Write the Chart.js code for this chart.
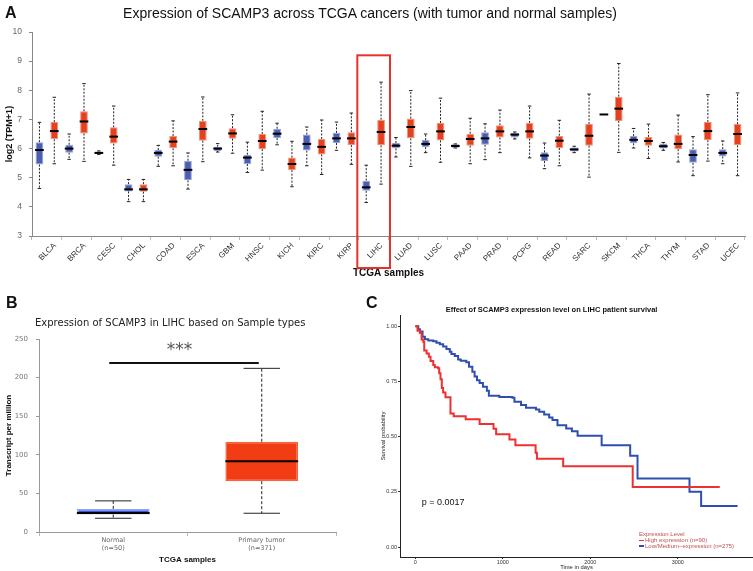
<!DOCTYPE html>
<html>
<head>
<meta charset="utf-8">
<script src="https://cdn.jsdelivr.net/npm/chart.js@4.4.1/dist/chart.umd.min.js"></script>
<style>
  html, body { margin: 0; padding: 0; background: #fff; }
  #page { position: relative; width: 753px; height: 571px; overflow: hidden; font-family: "Liberation Sans", Arial, sans-serif; }
  canvas { position: absolute; }
  .txt { position: absolute; line-height: 1; white-space: nowrap; color: #111; }
  .letter { font-weight: bold; font-size: 16px; }
  .leg { font-size: 6px; color: #c0504d; }
  .mark { position: absolute; width: 5px; height: 1.5px; }
</style>
</head>
<body>
<div id="page">
  <canvas id="chartA" width="753" height="280" style="left:0;top:0"></canvas>
  <canvas id="chartB" width="375" height="291" style="left:0;top:280px"></canvas>
  <canvas id="chartC" width="378" height="291" style="left:375px;top:280px"></canvas>

  <div class="txt letter" style="left:5px;top:5px">A</div>
  <div class="txt" style="left:0;top:5.5px;width:740px;text-align:center;font-size:14px">Expression of SCAMP3 across TCGA cancers (with tumor and normal samples)</div>

  <div class="txt letter" style="left:6px;top:295px">B</div>
  <div class="txt" style="left:35px;top:318px;font-family:'DejaVu Sans';font-size:10px;color:#222">Expression of SCAMP3 in LIHC based on Sample types</div>

  <div class="txt letter" style="left:366px;top:295px">C</div>
  <div class="txt" style="left:445.7px;top:306px;width:200px;text-align:center;font-size:7.5px;font-weight:bold">Effect of SCAMP3 expression level on LIHC patient survival</div>
  <div class="txt" style="left:421.7px;top:498px;font-size:9px">p = 0.0017</div>

  <div class="txt leg" style="left:639px;top:531.2px">Expression Level</div>
  <div class="mark" style="left:639px;top:539.5px;background:#ee3030"></div>
  <div class="txt leg" style="left:645px;top:537px">High expression (n=90)</div>
  <div class="mark" style="left:639px;top:545.3px;background:#2f4fae"></div>
  <div class="txt leg" style="left:645px;top:542.9px">Low/Medium−expression (n=275)</div>
</div>

<script>
// ---- panel A: SCAMP3 across TCGA cancers, log2(TPM+1)
const cancers = ["BLCA", "BRCA", "CESC", "CHOL", "COAD", "ESCA", "GBM", "HNSC", "KICH", "KIRC", "KIRP", "LIHC",
  "LUAD", "LUSC", "PAAD", "PRAD", "PCPG", "READ", "SARC", "SKCM", "THCA", "THYM", "STAD", "UCEC"];

const normalMin = [4.63, 5.63, 5.80, 4.18, 5.39, 4.61, 5.88, 5.18, 6.13, 5.41, 5.94, 4.15, 5.71, 5.86, 6.02, 5.62, 6.33, 5.31, 5.86, 7.17, 6.02, 5.94, 5.07, 5.48];
const normalQ1 = [5.45, 5.86, 5.81, 4.53, 5.72, 4.91, 5.92, 5.47, 6.36, 5.93, 6.19, 4.55, 6.01, 6.05, 6.03, 6.13, 6.38, 5.57, 5.90, 7.17, 6.18, 6.00, 5.51, 5.73];
const normalMed = [5.95, 6.00, 5.85, 4.60, 5.85, 5.27, 6.00, 5.69, 6.51, 6.16, 6.35, 4.67, 6.10, 6.16, 6.09, 6.35, 6.48, 5.76, 5.97, 7.17, 6.30, 6.08, 5.78, 5.85];
const normalQ3 = [6.22, 6.13, 5.90, 4.78, 5.95, 5.58, 6.06, 5.79, 6.68, 6.48, 6.54, 4.90, 6.19, 6.29, 6.15, 6.56, 6.54, 5.87, 6.04, 7.17, 6.43, 6.17, 5.98, 5.98];
const normalMax = [6.90, 6.50, 5.92, 4.94, 6.11, 5.85, 6.17, 6.22, 6.87, 6.74, 6.91, 5.43, 6.38, 6.50, 6.16, 6.85, 6.57, 6.19, 6.08, 7.17, 6.69, 6.21, 6.41, 6.26];

const tumorMin = [5.48, 5.56, 5.43, 4.18, 5.41, 5.55, 5.84, 5.26, 4.69, 5.11, 5.46, 4.78, 5.39, 5.53, 5.48, 5.86, 5.68, 5.41, 5.02, 5.87, 5.66, 5.54, 5.57, 5.07];
const tumorQ1 = [6.32, 6.52, 6.17, 4.52, 6.01, 6.27, 6.34, 5.98, 5.26, 5.80, 6.12, 6.11, 6.35, 6.28, 6.10, 6.38, 6.34, 6.02, 6.10, 6.95, 6.10, 5.98, 6.29, 6.11];
const tumorMed = [6.60, 6.93, 6.41, 4.60, 6.24, 6.67, 6.52, 6.26, 5.47, 6.06, 6.35, 6.57, 6.74, 6.59, 6.33, 6.59, 6.59, 6.27, 6.44, 7.37, 6.26, 6.16, 6.60, 6.50];
const tumorQ3 = [6.91, 7.28, 6.73, 4.78, 6.43, 6.95, 6.70, 6.50, 5.69, 6.33, 6.56, 6.99, 7.03, 6.88, 6.51, 6.80, 6.88, 6.44, 6.84, 7.78, 6.40, 6.48, 6.91, 6.84];
const tumorMax = [7.76, 8.23, 7.46, 4.94, 6.95, 7.77, 7.16, 7.28, 6.25, 6.98, 7.22, 8.28, 7.99, 7.73, 7.04, 7.32, 7.46, 6.97, 7.87, 8.92, 6.84, 7.15, 7.85, 7.91];

const highlightCancer = "LIHC";
const highlightTop = 9.2;

// ---- panel B: LIHC, transcripts per million
const lihcGroups = [["Normal", "(n=50)"], ["Primary tumor", "(n=371)"]];
const lihcMin = [17.8, 24.3];
const lihcQ1 = [22.6, 65.8];
const lihcMed = [24.7, 91.8];
const lihcQ3 = [29.9, 116.9];
const lihcMax = [40.3, 212];
const sigLevel = 219;
const sigLabel = "***";

// ---- panel C: Kaplan-Meier curves (time in days, survival probability)
const highDays = [0, 25, 53, 72, 91, 102, 129, 155, 174, 205, 223, 261, 273, 288, 303, 318, 345, 402, 439, 576, 735, 894, 924, 1076, 1144, 1375, 1390, 1690, 2485, 3480];
const highSurv = [1.0, 0.98, 0.97, 0.94, 0.93, 0.89, 0.877, 0.862, 0.843, 0.825, 0.814, 0.81, 0.787, 0.76, 0.72, 0.70, 0.678, 0.605, 0.593, 0.579, 0.557, 0.536, 0.511, 0.487, 0.461, 0.427, 0.40, 0.366, 0.272, 0.272];
const lowDays = [0, 34, 53, 83, 110, 148, 205, 242, 280, 318, 356, 394, 413, 451, 489, 519, 583, 614, 652, 678, 705, 735, 773, 818, 841, 960, 1110, 1133, 1208, 1265, 1379, 1417, 1473, 1530, 1568, 1625, 1725, 1790, 1855, 2130, 2456, 2540, 3134, 3267, 3684];
const lowSurv = [1.0, 0.986, 0.976, 0.953, 0.941, 0.935, 0.932, 0.925, 0.918, 0.908, 0.897, 0.885, 0.874, 0.865, 0.85, 0.844, 0.837, 0.817, 0.794, 0.772, 0.756, 0.743, 0.726, 0.708, 0.685, 0.68, 0.676, 0.658, 0.643, 0.631, 0.623, 0.613, 0.60, 0.587, 0.575, 0.552, 0.537, 0.525, 0.504, 0.461, 0.413, 0.31, 0.25, 0.186, 0.186];
const timeTicks = [0, 1000, 2000, 3000];
const survTicks = [0, 0.25, 0.5, 0.75, 1];

Chart.defaults.font.family = "'Liberation Sans', Arial, sans-serif";
Chart.defaults.animation = false;
Chart.defaults.plugins.legend.display = false;
Chart.defaults.plugins.tooltip.enabled = false;

// whiskers + median for the floating-bar boxes
const boxStats = {
  id: "boxStats",
  afterDatasetsDraw(chart, args, opts) {
    const ctx = chart.ctx;
    chart.data.datasets.forEach((ds, di) => {
      if (!ds.stats) return;
      const meta = chart.getDatasetMeta(di);
      const y = chart.scales[meta.yAxisID];
      const st = ds.stats;
      meta.data.forEach((bar, i) => {
        const x = bar.x;
        const w = bar.width;
        const cap = w * opts.capFrac;
        const pMin = y.getPixelForValue(st.min[i]);
        const pQ1 = y.getPixelForValue(st.q1[i]);
        const pMed = y.getPixelForValue(st.med[i]);
        const pQ3 = y.getPixelForValue(st.q3[i]);
        const pMax = y.getPixelForValue(st.max[i]);
        ctx.save();
        ctx.strokeStyle = opts.color;
        ctx.lineWidth = 1;
        ctx.setLineDash(opts.dash);
        ctx.beginPath();
        ctx.moveTo(x, pQ3); ctx.lineTo(x, pMax);
        ctx.moveTo(x, pQ1); ctx.lineTo(x, pMin);
        ctx.stroke();
        ctx.setLineDash([]);
        ctx.lineWidth = opts.capWidth;
        ctx.beginPath();
        ctx.moveTo(x - cap / 2, pMax); ctx.lineTo(x + cap / 2, pMax);
        ctx.moveTo(x - cap / 2, pMin); ctx.lineTo(x + cap / 2, pMin);
        ctx.stroke();
        ctx.strokeStyle = "#000";
        ctx.lineWidth = opts.medianWidth;
        ctx.beginPath();
        ctx.moveTo(x - w / 2 - opts.medianExtra, pMed);
        ctx.lineTo(x + w / 2 + opts.medianExtra, pMed);
        ctx.stroke();
        ctx.restore();
      });
    });
  }
};

const highlightBox = {
  id: "highlightBox",
  afterDraw(chart) {
    const x = chart.scales.x;
    const y = chart.scales.y;
    const idx = cancers.indexOf(highlightCancer);
    const cw = x.width / cancers.length;
    const cx = x.getPixelForValue(idx);
    const top = y.getPixelForValue(highlightTop);
    const bottom = chart.chartArea.bottom + 32;
    const ctx = chart.ctx;
    ctx.save();
    ctx.strokeStyle = "#e5322d";
    ctx.lineWidth = 2;
    ctx.strokeRect(cx - cw * 0.55, top, cw * 1.1, bottom - top);
    ctx.restore();
  }
};

const sigBar = {
  id: "sigBar",
  afterDraw(chart) {
    const x = chart.scales.x;
    const y = chart.scales.y;
    const ctx = chart.ctx;
    const yy = y.getPixelForValue(sigLevel);
    ctx.save();
    ctx.strokeStyle = "#111";
    ctx.lineWidth = 2;
    ctx.beginPath();
    ctx.moveTo(x.getPixelForValue(0) - 4, yy);
    ctx.lineTo(x.getPixelForValue(1) - 3, yy);
    ctx.stroke();
    ctx.fillStyle = "#555";
    ctx.font = "17px 'DejaVu Sans'";
    ctx.textAlign = "center";
    ctx.textBaseline = "middle";
    ctx.fillText(sigLabel, (x.getPixelForValue(0) + x.getPixelForValue(1)) / 2 - 8, yy - 12);
    ctx.restore();
  }
};

// ---- chart A
new Chart(document.getElementById("chartA"), {
  type: "bar",
  data: {
    labels: cancers,
    datasets: [
      {
        label: "Normal",
        data: cancers.map((c, i) => [normalQ1[i], normalQ3[i]]),
        stats: { min: normalMin, q1: normalQ1, med: normalMed, q3: normalQ3, max: normalMax },
        backgroundColor: "#4b5eb0",
        borderColor: "#95a3dc",
        borderWidth: 1,
        borderSkipped: false
      },
      {
        label: "Tumor",
        data: cancers.map((c, i) => [tumorQ1[i], tumorQ3[i]]),
        stats: { min: tumorMin, q1: tumorQ1, med: tumorMed, q3: tumorQ3, max: tumorMax },
        backgroundColor: "#e6411f",
        borderColor: "#f3907a",
        borderWidth: 1,
        borderSkipped: false
      }
    ]
  },
  options: {
    responsive: false,
    categoryPercentage: 1.0,
    barPercentage: 0.52,
    layout: { padding: { top: 32, right: 8, left: 0, bottom: 0 } },
    plugins: {
      boxStats: { color: "#222", dash: [2, 1.5], capFrac: 0.45, capWidth: 1, medianWidth: 2, medianExtra: 0.5 }
    },
    scales: {
      x: {
        offset: true,
        grid: { drawOnChartArea: false, drawTicks: true, tickLength: 4, color: "#bbb", offset: true },
        border: { color: "#888" },
        ticks: { autoSkip: false, minRotation: 45, maxRotation: 45, labelOffset: 8, font: { size: 8 }, color: "#333", padding: 1 },
        title: { display: true, text: "TCGA samples", font: { size: 10, weight: "bold" }, color: "#111", padding: { top: 0, bottom: 1 } },
        afterFit: s => { s.height = 44; }
      },
      y: {
        min: 3,
        max: 10,
        ticks: { stepSize: 1, font: { size: 8.5 }, color: "#666", padding: 7 },
        grid: { drawOnChartArea: false, tickLength: 3, color: "#888" },
        border: { color: "#888" },
        title: { display: true, text: "log2 (TPM+1)", font: { size: 9, weight: "bold" }, color: "#111", padding: { top: 4, bottom: 0 } },
        afterFit: s => { s.width = 32; }
      }
    }
  },
  plugins: [boxStats, highlightBox]
});

// ---- chart B
new Chart(document.getElementById("chartB"), {
  type: "bar",
  data: {
    labels: lihcGroups,
    datasets: [{
      label: "LIHC",
      data: lihcGroups.map((g, i) => [lihcQ1[i], lihcQ3[i]]),
      stats: { min: lihcMin, q1: lihcQ1, med: lihcMed, q3: lihcQ3, max: lihcMax },
      backgroundColor: ["#3a55d9", "#f23c13"],
      borderColor: ["#93a6ff", "#f5623f"],
      borderWidth: 1.5,
      borderSkipped: false
    }]
  },
  options: {
    responsive: false,
    categoryPercentage: 1.0,
    barPercentage: 0.49,
    layout: { padding: { top: 59, right: 39, left: 0, bottom: 0 } },
    plugins: {
      boxStats: { color: "#222", dash: [3, 2], capFrac: 0.5, capWidth: 1, medianWidth: 2, medianExtra: 0 }
    },
    scales: {
      x: {
        offset: true,
        grid: { drawOnChartArea: false, tickLength: 4, color: "#bbb", offset: true },
        border: { color: "#999" },
        ticks: { font: { family: "'DejaVu Sans'", size: 6.5 }, color: "#666", padding: 0.5 },
        title: { display: true, text: "TCGA samples", font: { size: 8, weight: "bold" }, color: "#111", padding: { top: 0, bottom: 6 } },
        afterFit: s => { s.height = 39; }
      },
      y: {
        min: 0,
        max: 250,
        ticks: { stepSize: 50, font: { family: "'DejaVu Sans'", size: 7 }, color: "#777", padding: 8 },
        grid: { drawOnChartArea: false, tickLength: 3, color: "#999" },
        border: { color: "#999" },
        title: { display: true, text: "Transcript per million", font: { size: 8, weight: "bold" }, color: "#111", padding: { top: 4, bottom: 0 } },
        afterFit: s => { s.width = 39; }
      }
    }
  },
  plugins: [boxStats, sigBar]
});

// ---- chart C
new Chart(document.getElementById("chartC"), {
  type: "line",
  data: {
    datasets: [
      {
        label: "High expression (n=90)",
        data: highDays.map((d, i) => ({ x: d, y: highSurv[i] })),
        borderColor: "#ee3030",
        borderWidth: 2,
        stepped: true,
        pointRadius: 0,
        fill: false
      },
      {
        label: "Low/Medium-expression (n=275)",
        data: lowDays.map((d, i) => ({ x: d, y: lowSurv[i] })),
        borderColor: "#2f4fae",
        borderWidth: 2,
        stepped: true,
        pointRadius: 0,
        fill: false
      }
    ]
  },
  options: {
    responsive: false,
    layout: { padding: { top: 35, right: 0, left: 0, bottom: 0 } },
    scales: {
      x: {
        type: "linear",
        min: -175,
        max: 3860,
        afterBuildTicks: s => { s.ticks = timeTicks.map(v => ({ value: v })); },
        grid: { drawOnChartArea: false, tickLength: 2, color: "#333" },
        border: { color: "#222" },
        ticks: { font: { size: 5.5 }, color: "#333", padding: 0, callback: v => String(v) },
        title: { display: true, text: "Time in days", font: { size: 5.8 }, color: "#222", padding: { top: 0, bottom: 0 } },
        afterFit: s => { s.height = 14; }
      },
      y: {
        min: -0.045,
        max: 1.051,
        afterBuildTicks: s => { s.ticks = survTicks.map(v => ({ value: v })); },
        grid: { drawOnChartArea: false, tickLength: 2, color: "#333" },
        border: { color: "#222" },
        ticks: { font: { size: 5.5 }, color: "#333", padding: 1, callback: v => v.toFixed(2) },
        title: { display: true, text: "Survival probability", font: { size: 5.8 }, color: "#222", padding: { top: 4.5, bottom: 0 } },
        afterFit: s => { s.width = 25; }
      }
    }
  }
});
</script>
</body>
</html>
